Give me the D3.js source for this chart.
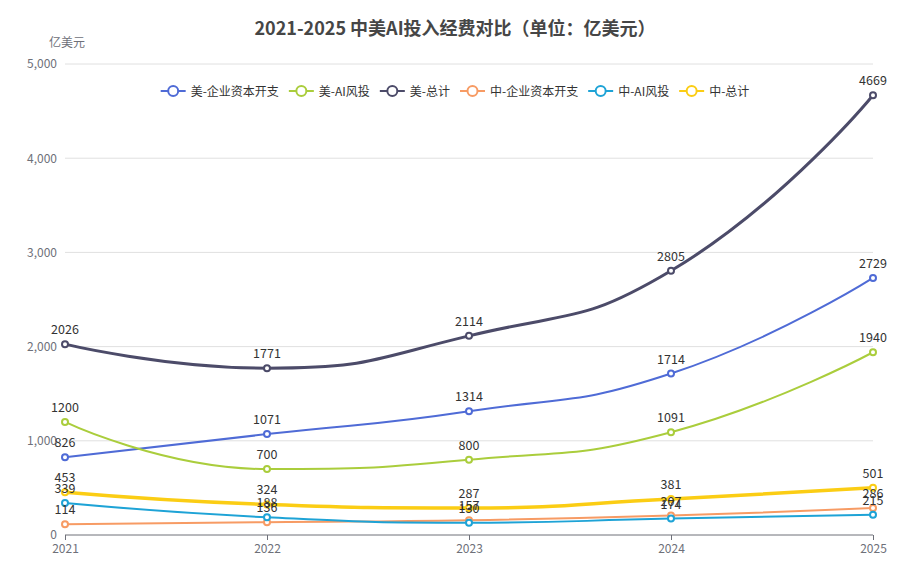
<!DOCTYPE html>
<html>
<head>
<meta charset="utf-8">
<script src="https://cdn.jsdelivr.net/npm/d3@7"></script>
<style>
  html, body { margin: 0; padding: 0; background: #fff; }
  svg { display: block; font-family: "Noto Sans CJK SC", "Noto Sans", sans-serif; }
</style>
</head>
<body>
<div id="chart"></div>
<script>
// 年份
const years = ["2021", "2022", "2023", "2024", "2025"];
// 各系列数值（亿美元）
const usCapex = [826, 1071, 1314, 1714, 2729];
const usVC = [1200, 700, 800, 1091, 1940];
const usTotal = [2026, 1771, 2114, 2805, 4669];
const cnCapex = [114, 136, 157, 207, 286];
const cnVC = [339, 188, 130, 174, 215];
const cnTotal = [453, 324, 287, 381, 501];
const seriesNames = ["美-企业资本开支", "美-AI风投", "美-总计", "中-企业资本开支", "中-AI风投", "中-总计"];
const yTicks = [0, 1000, 2000, 3000, 4000, 5000];

(function () {
    const width = 910, height = 573;
    const colors = ["#4f6bd6", "#aacd3c", "#4c4b69", "#f79b64", "#1ea3d6", "#fbcd14"];
    const widths = [2, 2, 3, 2, 2, 3.5];
    const allData = [usCapex, usVC, usTotal, cnCapex, cnVC, cnTotal];

    const svg = d3.select("#chart").append("svg")
        .attr("width", width)
        .attr("height", height);

    const x = d3.scalePoint().domain(years).range([65, 873]);
    const y = d3.scaleLinear().domain([0, 5000]).range([535, 64]);

    // 标题
    svg.append("text")
        .attr("x", 455).attr("y", 35)
        .attr("text-anchor", "middle")
        .attr("font-size", 18).attr("font-weight", "bold")
        .attr("fill", "#464646")
        .text("2021-2025 中美AI投入经费对比（单位：亿美元）");

    // 网格线
    svg.append("g").selectAll("line")
        .data(yTicks.filter(d => d > 0))
        .enter().append("line")
        .attr("x1", 65).attr("x2", 873)
        .attr("y1", d => y(d)).attr("y2", d => y(d))
        .attr("stroke", "#e0e0e0");

    // y 轴
    const yAxis = svg.append("g")
        .attr("transform", "translate(65,0)")
        .call(d3.axisLeft(y).tickValues(yTicks).tickSize(0).tickPadding(8).tickFormat(d3.format(",")));
    yAxis.select(".domain").remove();
    yAxis.selectAll("text").attr("fill", "#6e7079").attr("font-size", 12)
        .attr("font-family", "'Noto Sans CJK SC', sans-serif");

    svg.append("text")
        .attr("x", 67).attr("y", 47)
        .attr("text-anchor", "middle")
        .attr("font-size", 12).attr("fill", "#6e7079")
        .text("亿美元");

    // x 轴
    const xAxis = svg.append("g")
        .attr("transform", "translate(0,535)")
        .call(d3.axisBottom(x).tickSize(5).tickPadding(4));
    xAxis.select(".domain").attr("stroke", "#6e7079").attr("d", "M65,0H873");
    xAxis.selectAll(".tick line").attr("stroke", "#6e7079");
    xAxis.selectAll("text").attr("fill", "#6e7079").attr("font-size", 12)
        .attr("font-family", "'Noto Sans CJK SC', sans-serif");

    // ECharts 风格平滑曲线（带极值约束）
    const clamp = (v, a, b) => Math.max(Math.min(v, Math.max(a, b)), Math.min(a, b));
    function smoothPath(pts, smooth) {
        const p = d3.path();
        const n = pts.length;
        let outX = pts[0][0], outY = pts[0][1];
        p.moveTo(pts[0][0], pts[0][1]);
        for (let i = 1; i < n; i++) {
            const [px, py] = pts[i];
            let inX = px, inY = py, nOutX = px, nOutY = py;
            if (i < n - 1) {
                const [ax, ay] = pts[i - 1];
                const [bx, by] = pts[i + 1];
                let vx = bx - ax, vy = by - ay;
                const l0 = Math.hypot(px - ax, py - ay);
                const l1 = Math.hypot(px - bx, py - by);
                const r = l1 / (l0 + l1);
                nOutX = clamp(px + vx * smooth * r, px, bx);
                nOutY = clamp(py + vy * smooth * r, py, by);
                vx = nOutX - px; vy = nOutY - py;
                inX = clamp(px - vx * l0 / l1, ax, px);
                inY = clamp(py - vy * l0 / l1, ay, py);
                vx = px - inX; vy = py - inY;
                nOutX = px + vx * l1 / l0;
                nOutY = py + vy * l1 / l0;
            }
            p.bezierCurveTo(outX, outY, inX, inY, px, py);
            outX = nOutX; outY = nOutY;
        }
        return p.toString();
    }

    const pts = allData.map(vals => vals.map((v, i) => [x(years[i]), y(v)]));

    svg.append("g").selectAll("path")
        .data(pts)
        .enter().append("path")
        .attr("d", d => smoothPath(d, 0.5))
        .attr("fill", "none")
        .attr("stroke", (_, i) => colors[i])
        .attr("stroke-width", (_, i) => widths[i]);

    allData.forEach((vals, s) => {
        const g = svg.append("g");
        g.selectAll("circle").data(vals).enter().append("circle")
            .attr("cx", (_, i) => x(years[i]))
            .attr("cy", d => y(d))
            .attr("r", 3)
            .attr("fill", "#fff")
            .attr("stroke", colors[s])
            .attr("stroke-width", 2);
    });

    allData.forEach((vals) => {
        svg.append("g").selectAll("text").data(vals).enter().append("text")
            .attr("x", (_, i) => x(years[i]))
            .attr("y", d => y(d) - 10)
            .attr("text-anchor", "middle")
            .attr("font-size", 12.5)
            .attr("fill", "#333")
            .text(d => d);
    });

    // 图例
    const legend = svg.append("g");
    const items = legend.selectAll("g").data(seriesNames).enter().append("g");
    items.append("text")
        .attr("x", 30).attr("y", 4.5)
        .attr("font-size", 12).attr("fill", "#333")
        .text(d => d);
    const tw = [];
    items.each(function () { tw.push(this.querySelector("text").getComputedTextLength()); });
    const total = d3.sum(tw, w => 30 + w) + 10 * (tw.length - 1);
    let cx = 455 - total / 2;
    items.each(function (_, i) {
        d3.select(this).attr("transform", `translate(${cx},91)`);
        cx += 30 + tw[i] + 10;
    });
    items.insert("line", "text")
        .attr("x1", 0).attr("x2", 25).attr("y1", 0).attr("y2", 0)
        .attr("stroke", (_, i) => colors[i]).attr("stroke-width", 2);
    items.insert("circle", "text")
        .attr("cx", 12.5).attr("cy", 0).attr("r", 5)
        .attr("fill", "#fff")
        .attr("stroke", (_, i) => colors[i]).attr("stroke-width", 2);
})();
</script>
</body>
</html>
